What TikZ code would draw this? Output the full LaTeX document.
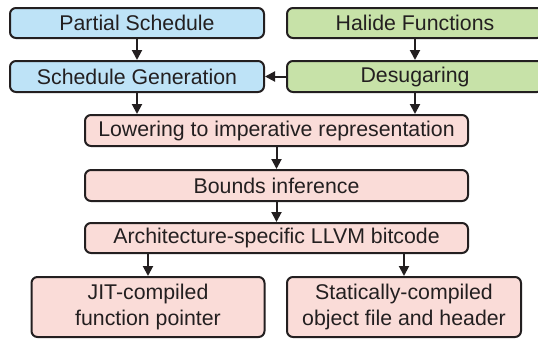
\documentclass[tikz,border=0pt]{standalone}
\usepackage{fontspec}
\setmainfont{Liberation Sans}
\usetikzlibrary{arrows.meta}
\definecolor{bluefill}{HTML}{BEE3F7}
\definecolor{greenfill}{HTML}{C7E2A8}
\definecolor{pinkfill}{HTML}{FADCD8}
\definecolor{edge}{HTML}{231F20}
\tikzset{
  box/.style={draw=edge, line width=2pt, rounded corners=6pt, inner sep=0pt,
    font=\fontsize{21.3}{26.5}\selectfont, text=edge, align=center},
  bluebox/.style={box, fill=bluefill},
  greenbox/.style={box, fill=greenfill},
  pinkbox/.style={box, fill=pinkfill},
  conn/.style={draw=edge, line width=2pt, -{Triangle[length=10pt,width=10pt]}}
}
\begin{document}
\begin{tikzpicture}[x=1pt,y=-1pt]
\useasboundingbox (0,0) rectangle (538,341);
\node[bluebox, minimum width=254pt, minimum height=30pt] (ps) at (137,23) {Partial Schedule};
\node[bluebox, minimum width=254pt, minimum height=31pt] (sg) at (137,76.5) {Schedule Generation};
\node[greenbox, minimum width=256pt, minimum height=30pt] (hf) at (415,23) {Halide Functions};
\node[greenbox, minimum width=256pt, minimum height=31pt] (ds) at (415,76.5) {Desugaring};
\node[pinkbox, minimum width=383pt, minimum height=31pt] (lw) at (276.5,130.5) {Lowering to imperative representation};
\node[pinkbox, minimum width=383pt, minimum height=31pt] (bi) at (276.5,185.5) {Bounds inference};
\node[pinkbox, minimum width=383pt, minimum height=30pt] (ar) at (276.5,238) {Architecture-specific LLVM bitcode};
\node[pinkbox, minimum width=233pt, minimum height=60pt] (jit) at (148,307) {JIT-compiled\\function pointer};
\node[pinkbox, minimum width=234pt, minimum height=60pt] (st) at (404,307) {Statically-compiled\\object file and header};
\draw[conn] (ps) -- (sg);
\draw[conn] (hf) -- (ds);
\draw[conn] (ds) -- (sg);
\draw[conn] (sg.south) -- (sg.south |- lw.north);
\draw[conn] (ds.south) -- (ds.south |- lw.north);
\draw[conn] (lw) -- (bi);
\draw[conn] (bi) -- (ar);
\draw[conn] (jit.north |- ar.south) -- (jit.north);
\draw[conn] (st.north |- ar.south) -- (st.north);
\end{tikzpicture}
\end{document}
